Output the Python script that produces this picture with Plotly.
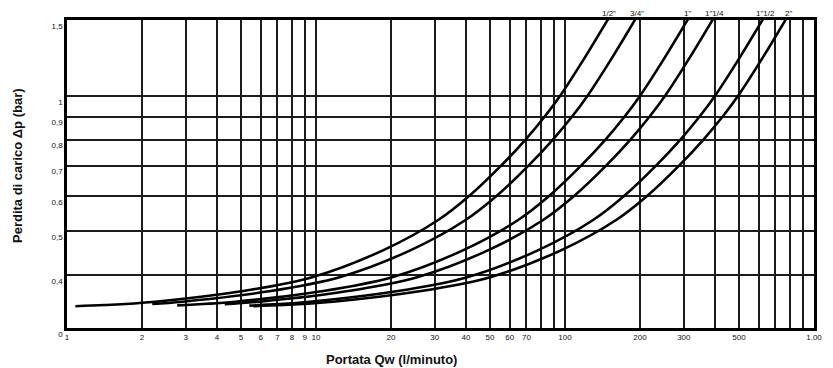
import math
import plotly.graph_objects as go

# ---- data ----
sizes = ['1/2"', '3/4"', '1"', '1"1/4', '1"1/2', '2"']

q_12 = [1.08, 1.42, 2.26, 4.86, 9.73, 18.76, 30.96, 41.32, 55.39, 69.43, 82.89, 95.5, 120.4, 150.9]
p_12 = [0.341, 0.343, 0.349, 0.367, 0.396, 0.455, 0.530, 0.60, 0.70, 0.80, 0.90, 1.00, 1.22, 1.50]

q_34 = [2.20, 2.91, 6.26, 12.53, 24.16, 39.88, 53.22, 71.34, 89.42, 106.8, 123.0, 155.1, 194.3]
p_34 = [0.345, 0.349, 0.367, 0.396, 0.455, 0.530, 0.60, 0.70, 0.80, 0.90, 1.00, 1.22, 1.50]

q_1 = [2.77, 4.73, 10.18, 20.38, 39.28, 64.84, 86.54, 116.0, 145.4, 173.6, 200.0, 252.2, 316.0]
p_1 = [0.3425, 0.349, 0.367, 0.396, 0.455, 0.530, 0.60, 0.70, 0.80, 0.90, 1.00, 1.22, 1.50]

q_114 = [4.30, 5.96, 12.83, 25.68, 49.49, 81.70, 109.0, 146.2, 183.2, 218.7, 252.0, 317.8, 398.2]
p_114 = [0.3445, 0.349, 0.367, 0.396, 0.455, 0.530, 0.60, 0.70, 0.80, 0.90, 1.00, 1.22, 1.50]

q_112 = [5.40, 5.95, 9.45, 20.36, 40.76, 78.56, 129.7, 173.1, 232.0, 290.8, 347.2, 400.0, 504.4, 632.0]
p_112 = [0.342, 0.343, 0.349, 0.367, 0.396, 0.455, 0.530, 0.60, 0.70, 0.80, 0.90, 1.00, 1.22, 1.50]

q_2 = [5.60, 7.37, 11.70, 25.20, 50.44, 97.22, 160.5, 214.2, 287.1, 359.9, 429.7, 495.0, 624.2, 782.1]
p_2 = [0.341, 0.343, 0.349, 0.367, 0.396, 0.455, 0.530, 0.60, 0.70, 0.80, 0.90, 1.00, 1.22, 1.50]

series_q = [q_12, q_34, q_1, q_114, q_112, q_2]
series_p = [p_12, p_34, p_1, p_114, p_112, p_2]

x_grid = [1, 2, 3, 4, 5, 6, 7, 8, 9, 10, 20, 30, 40, 50, 60, 70, 80, 90,
          100, 200, 300, 400, 500, 600, 700, 800, 900, 1000]
x_labels = ["1", "2", "3", "4", "5", "6", "7", "8", "9", "10", "20", "30", "40", "50",
            "60", "70", "", "", "100", "200", "300", "", "500", "", "", "", "", "1.00"]

y_min, y_max = 0.305, 1.475
y_ticks = [y_min, 0.4, 0.5, 0.6, 0.7, 0.8, 0.9, 1.0, y_max]
y_labels = ["0", "0,4", "0,5", "0,6", "0,7", "0,8", "0,9", "1", "1,5"]

FONT = "Liberation Sans, Arial, sans-serif"
INK = "#111111"

W, H = 833, 368
ML, MR, MT, MB = 67, 19, 20, 40
PW, PH = W - ML - MR, H - MT - MB


def px(xp):
    return (xp - ML) / PW


def py(yp):
    return (H - MB - yp) / PH


fig = go.Figure()
for name, q, p in zip(sizes, series_q, series_p):
    fig.add_trace(go.Scatter(x=q, y=p, mode="lines", name=name,
                             line=dict(color="#000000", width=2.6, shape="spline", smoothing=1.0),
                             showlegend=False, hoverinfo="skip"))

label_px = [609, 637, 687, 714, 765, 788]
for name, lx in zip(sizes, label_px):
    fig.add_annotation(x=px(lx), y=py(13), xref="paper", yref="paper", text=name,
                       showarrow=False, xanchor="center", yanchor="middle",
                       font=dict(family=FONT, size=8, color=INK))

fig.add_annotation(x=px(391), y=py(359), xref="paper", yref="paper",
                   text="<b>Portata Qw (l/minuto)</b>", showarrow=False,
                   xanchor="center", yanchor="middle",
                   font=dict(family=FONT, size=13, color=INK))
fig.add_annotation(x=px(17), y=py(166), xref="paper", yref="paper",
                   text="<b>Perdita di carico \u0394p (bar)</b>", textangle=-90,
                   showarrow=False, xanchor="center", yanchor="middle",
                   font=dict(family=FONT, size=13, color=INK))

fig.update_layout(
    width=W, height=H,
    margin=dict(l=ML, r=MR, t=MT, b=MB, pad=0),
    paper_bgcolor="white", plot_bgcolor="white",
    font=dict(family=FONT, color=INK),
    xaxis=dict(type="log", range=[0, 3], tickvals=x_grid, ticktext=x_labels,
               showgrid=True, gridcolor="#1c1c1c", gridwidth=1.7,
               showline=True, linecolor="#000000", linewidth=2.6, mirror=True,
               ticks="", zeroline=False, automargin=False,
               tickfont=dict(family=FONT, size=8, color=INK)),
    yaxis=dict(type="log", range=[math.log10(y_min), math.log10(y_max)],
               tickvals=y_ticks, ticktext=y_labels,
               showgrid=True, gridcolor="#1c1c1c", gridwidth=1.7,
               showline=True, linecolor="#000000", linewidth=2.6, mirror=True,
               ticks="", zeroline=False, automargin=False, ticklabelshift=6,
               tickfont=dict(family=FONT, size=8, color=INK)),
)

fig.write_html("out.html", config={"displayModeBar": False},
               post_script="document.body.style.margin='0';document.body.style.overflow='hidden';")
